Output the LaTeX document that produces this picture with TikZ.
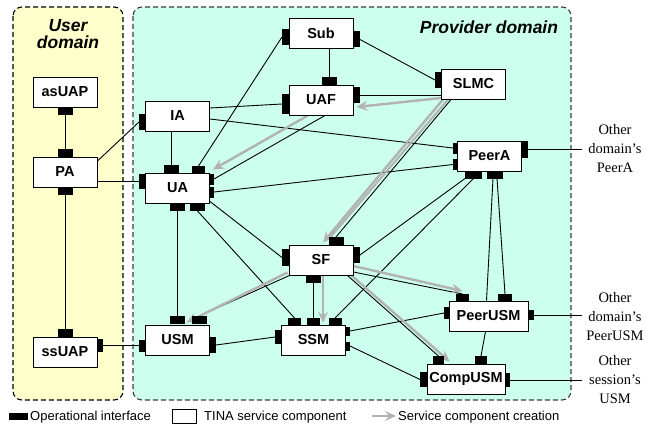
\documentclass[tikz,border=0pt]{standalone}
\usepackage{fontspec}
\setmainfont{Liberation Serif}
\setsansfont{Liberation Sans}
\usetikzlibrary{arrows.meta,calc}
\definecolor{provfill}{RGB}{204,255,238}
\definecolor{userfill}{RGB}{255,255,204}
\definecolor{creategray}{RGB}{178,178,178}
\definecolor{domborder}{RGB}{60,60,60}
\pgfdeclarelayer{bg}
\pgfdeclarelayer{lines}
\pgfsetlayers{bg,lines,main}

\begin{document}
\begin{tikzpicture}[x=1pt,y=-1pt,
  comp/.style={draw=black, line width=0.9pt, fill=white, minimum width=64pt, minimum height=30pt,
    inner sep=0pt, font=\sffamily\bfseries\fontsize{14.5}{16}\selectfont},
  wide/.style={minimum width=78pt},
  hp/.style={fill=black, minimum width=15pt, minimum height=8pt, inner sep=0pt, outer sep=0pt},
  hps/.style={fill=black, minimum width=13pt, minimum height=7pt, inner sep=0pt, outer sep=0pt},
  vp/.style={fill=black, minimum width=7pt, minimum height=16pt, inner sep=0pt, outer sep=0pt},
  vps/.style={fill=black, minimum width=5pt, minimum height=11pt, inner sep=0pt, outer sep=0pt},
  link/.style={draw=black, line width=0.9pt},
  create/.style={draw=creategray, line width=2.4pt, -{Stealth[length=11pt,width=10pt,inset=4pt]}},
  createline/.style={draw=creategray, line width=2pt},
  domainbox/.style={rounded corners=9pt, line width=1.1pt, dash pattern=on 5pt off 3pt},
  domlabel/.style={font=\sffamily\bfseries\itshape\fontsize{17.5}{17}\selectfont, align=center},
  ext/.style={font=\fontsize{14.5}{19}\selectfont, align=center},
  legend/.style={font=\sffamily\fontsize{13}{14}\selectfont, anchor=west, inner sep=0pt}
]
\useasboundingbox (0,0) rectangle (652,428);

% domains
\begin{pgfonlayer}{bg}
  \draw[domainbox, fill=userfill, draw=black] (13,7) rectangle (123,400);
  \draw[domainbox, fill=provfill, draw=domborder] (133,7) rectangle (571,400);
\end{pgfonlayer}
\node[domlabel] (userlbl) at (68,34) {User\\domain};
\node[domlabel, anchor=base] (provlbl) at (489,34) {Provider domain};

% service components
\node[comp] (asUAP) at (65,92) {asUAP};
\node[comp] (PA) at (65,172) {PA};
\node[comp] (ssUAP) at (65,352) {ssUAP};
\node[comp] (IA) at (177.5,116) {IA};
\node[comp] (UA) at (177.5,188) {UA};
\node[comp] (USM) at (177.5,340) {USM};
\node[comp] (Sub) at (321,33) {Sub};
\node[comp] (UAF) at (321,100) {UAF};
\node[comp] (SF) at (321,260) {SF};
\node[comp] (SSM) at (313.5,340) {SSM};
\node[comp] (SLMC) at (473.5,84) {SLMC};
\node[comp] (PeerA) at (489.5,156) {PeerA};
\node[comp, minimum width=79pt] (PeerUSM) at (488.5,316) {PeerUSM};
\node[comp, wide] (CompUSM) at (466,379) {CompUSM};

% operational interfaces
\node[hp] (asUAP-b) at (65,111) {};
\node[hp] (PA-t) at (65,153) {};
\node[hp] (PA-b) at (65,191) {};
\node[hp] (ssUAP-t) at (65,333) {};
\node[vps, minimum width=6pt, minimum height=13pt] (ssUAP-r) at (100,345.5) {};
\node[vp] (IA-l) at (142.5,122) {};
\node[vp, minimum height=15pt] (UA-l) at (142.5,181) {};
\node[hp] (UA-t1) at (171.5,169) {};
\node[hps] (UA-t2) at (198.5,169.5) {};
\node[vps] (UA-r1) at (211.5,179) {};
\node[vps] (UA-r2) at (211.5,192) {};
\node[hp] (UA-b1) at (177,207) {};
\node[hp] (UA-b2) at (197.5,207) {};
\node[hp] (USM-t1) at (177,320) {};
\node[hp] (USM-t2) at (199,320) {};
\node[vp, minimum height=12pt] (USM-l) at (142.5,345.5) {};
\node[vp] (USM-r) at (212.5,345) {};
\node[vp, minimum height=14pt] (SSM-l) at (278.5,337) {};
\node[hps] (SSM-t1) at (294.5,321.5) {};
\node[hps] (SSM-t2) at (313,321.5) {};
\node[hps] (SSM-t3) at (335,321.5) {};
\node[vps, minimum height=9pt] (SSM-r1) at (347.5,331) {};
\node[vps, minimum height=9pt] (SSM-r2) at (347.5,346) {};
\node[hp] (SF-t) at (336,241) {};
\node[vp, minimum height=17pt] (SF-l) at (285.5,257.5) {};
\node[vp] (SF-r) at (356.5,255) {};
\node[hp] (SF-b) at (313,279) {};
\node[vp] (Sub-l) at (285.5,37) {};
\node[vp] (Sub-r) at (356.5,39.5) {};
\node[hp] (UAF-t) at (329,81) {};
\node[vp, minimum height=20pt] (UAF-l) at (285.5,104) {};
\node[vp] (UAF-r) at (356.5,95) {};
\node[vp] (SLMC-l) at (438.5,80) {};
\node[vps] (PeerA-l1) at (455.5,148) {};
\node[vps] (PeerA-l2) at (455.5,164.5) {};
\node[hp, minimum width=17pt] (PeerA-b1) at (473.5,174.5) {};
\node[hp, minimum width=16pt] (PeerA-b2) at (495,174.5) {};
\node[vp, minimum height=17pt] (PeerA-r) at (524.5,149.5) {};
\node[hps] (PeerUSM-t1) at (462.5,297.5) {};
\node[hps, minimum width=14pt] (PeerUSM-t2) at (505,297.5) {};
\node[vps, minimum height=12pt] (PeerUSM-l) at (446.5,313) {};
\node[vps, minimum width=6pt, minimum height=10pt] (PeerUSM-r) at (531,315) {};
\node[hps, minimum width=11pt, minimum height=8pt] (CompUSM-t1) at (438.5,360) {};
\node[hps, minimum width=12pt, minimum height=8pt] (CompUSM-t2) at (481,360) {};
\node[vp, minimum height=15pt] (CompUSM-l) at (423.5,379.5) {};
\node[vps, minimum height=14pt] (CompUSM-r) at (507.5,380) {};

% outside the provider domain
\coordinate (extA) at (582,149.5);
\coordinate (extB) at (582,315);
\coordinate (extC) at (582,380);
\node[ext] (txtA) at (615,149) {Other\\domain’s\\PeerA};
\node[ext] (txtB) at (615,317) {Other\\domain’s\\PeerUSM};
\node[ext] (txtC) at (615,380) {Other\\session’s\\USM};

\begin{pgfonlayer}{lines}
  % interactions
  \draw[link] (asUAP-b) -- (PA-t);
  \draw[link] (PA-b) -- (ssUAP-t);
  \draw[link] ($(PA.east)+(0,-11)$) -- (IA-l.west);
  \draw[link] ($(PA.east)+(0,9)$) -- (UA-l.west);
  \draw[link] (ssUAP-r.east) -- (USM-l.west);
  \draw[link] (IA.south -| UA-t1) -- (UA-t1.north);
  \draw[link] ($(IA.east)+(0,-8)$) -- (UAF-l.west);
  \draw[link] ($(IA.east)+(0,3)$) -- (PeerA-l1.west);
  \draw[link] (Sub-l.west) -- (UA-t2.north);
  \draw[link] (Sub.south -| UAF-t) -- (UAF-t.north);
  \draw[link] (Sub-r.east) -- (SLMC-l.west);
  \draw[link] (UAF-r.east) -- (UAF-r.east -| SLMC.west);
  \draw[link] ($(UAF.south)+(4,0)$) -- (UA-r1.east);
  \draw[link] (UA-r2.east) -- (PeerA-l2.west);
  \draw[link] ($(UA.south east)+(0,-2)$) -- (SF-l.west);
  \draw[link] (UA-b1) -- (USM-t1);
  \draw[link] (UA-b2.south) -- (SSM-t1.north);
  \draw[link] ($(SLMC.south west)+(10,0)$) -- (SF-t.north);
  \draw[link] (SF-r.east) -- (PeerA-b1.south west);
  \draw[link] (SSM-t3.north) -- (PeerA-b1.south);
  \draw[link] ($(PeerA-b2.south)+(-2,0)$) -- ($(PeerUSM.north)+(-2,0)$);
  \draw[link] ($(PeerA-b2.south)+(2,0)$) -- (PeerUSM-t2.north);
  \draw[link] (PeerA-r.east) -- (extA);
  \draw[link] ($(SF.south west)+(1,0)$) -- (USM-t2.north);
  \draw[link] (SF-b) -- (SSM-t2);
  \draw[link] ($(SF.east)+(0,12)$) -- (PeerUSM-t1.north);
  \draw[link] ($(SF.south east)+(-6,0)$) -- (CompUSM-t1.north);
  \draw[link] (USM-r.east) -- (SSM-l.west);
  \draw[link] (SSM-r1.east) -- (PeerUSM-l.west);
  \draw[link] (SSM-r2.east) -- (CompUSM-l.west);
  \draw[link] ($(PeerUSM.south)+(-3,0)$) -- (CompUSM-t2.north);
  \draw[link] (PeerUSM-r.east) -- (extB);
  \draw[link] (CompUSM-r.east) -- (extC);

  % service component creation
  \draw[create] ($(SLMC.west)+(0,14)$) -- ($(UAF.east)+(3,7)$);
  \draw[create] ($(UAF.south)+(-13,0)$) -- ($(UA.north east)+(3,-3)$);
  \draw[createline] ($(SLMC.south west)+(7,0)$) -- ($(SF.north)+(9,-7)$);
  \draw[create] ($(SLMC.south west)+(2,0)$) -- ($(SF.north)+(2,-2)$);
  \draw[create] ($(SF.south west)+(-1,-3)$) -- ($(USM.north)+(9,-2)$);
  \draw[create] ($(SF.south)+(2,0)$) -- ($(SSM.north)+(9.5,-2)$);
  \draw[create] ($(SF.east)+(0,6)$) -- ($(PeerUSM-t1.north)+(0,-3)$);
  \draw[create] ($(SF.south east)+(-2,0)$) -- ($(CompUSM.north west)+(23,-2)$);
\end{pgfonlayer}

% legend
\node[fill=black, minimum width=19pt, minimum height=7pt, inner sep=0pt] (legport) at (18.5,416.5) {};
\node[legend] (legporttxt) at (30,417) {Operational interface};
\node[draw=black, line width=0.9pt, fill=white, minimum width=24pt, minimum height=14pt, inner sep=0pt] (legcomp) at (184,416) {};
\node[legend] (legcomptxt) at (204,417) {TINA service component};
\coordinate (legarrowA) at (372,416);
\coordinate (legarrowB) at (396,416);
\draw[create] (legarrowA) -- (legarrowB);
\node[legend] (legarrowtxt) at (398,417) {Service component creation};
\end{tikzpicture}
\end{document}
